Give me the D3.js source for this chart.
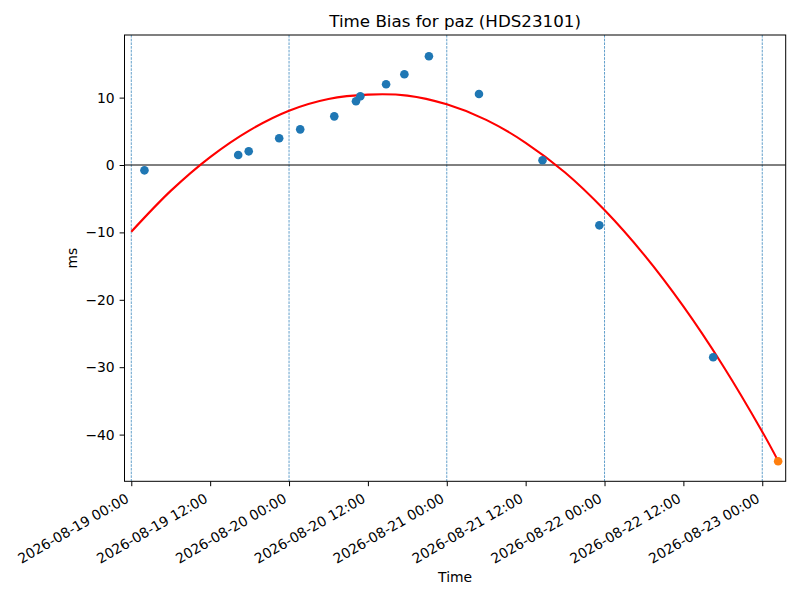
<!DOCTYPE html>
<html>
<head>
<meta charset="utf-8">
<script src="https://cdn.jsdelivr.net/npm/d3@7"></script>
<style>
  body { margin: 0; background: #fff; }
  text { font-family: "DejaVu Sans", sans-serif; fill: #000; }
</style>
</head>
<body>
<svg id="chart" width="800" height="600"></svg>
<script>
// Observed time-bias samples (ms)
const obsTimes = [
  "2026-08-19T02:00", "2026-08-19T16:16", "2026-08-19T17:52", "2026-08-19T22:30",
  "2026-08-20T01:42", "2026-08-20T06:53", "2026-08-20T10:11", "2026-08-20T10:51",
  "2026-08-20T14:46", "2026-08-20T17:33", "2026-08-20T21:17", "2026-08-21T04:54",
  "2026-08-21T14:34", "2026-08-21T23:13", "2026-08-22T16:32"
];
const obsValues = [-0.79, 1.48, 2.03, 3.96, 5.29, 7.22, 9.45, 10.19, 11.98, 13.46, 16.13, 10.53, 0.70, -8.95, -28.53];

// Predicted point
const predTimes = ["2026-08-23T02:25"];
const predValues = [-43.96];

// Fitted curve, read at 6-hour steps
const fitTimes = [
  "2026-08-19T00:00", "2026-08-19T06:00", "2026-08-19T12:00", "2026-08-19T18:00",
  "2026-08-20T00:00", "2026-08-20T06:00", "2026-08-20T12:00", "2026-08-20T18:00",
  "2026-08-21T00:00", "2026-08-21T06:00", "2026-08-21T12:00", "2026-08-21T18:00",
  "2026-08-22T00:00", "2026-08-22T06:00", "2026-08-22T12:00", "2026-08-22T18:00",
  "2026-08-23T00:00", "2026-08-23T02:25"
];
const fitValues = [-9.9, -3.84, 1.18, 5.15, 8.06, 9.8, 10.45, 10.3, 9.0, 6.7, 3.3, -1.11,
  -6.68, -13.29, -20.98, -29.74, -39.57, -43.9];

// Day boundaries (dashed markers)
const dayLines = ["2026-08-19T00:00", "2026-08-20T00:00", "2026-08-21T00:00", "2026-08-22T00:00", "2026-08-23T00:00"];

// Axis settings
const xDomain = ["2026-08-18T22:58", "2026-08-23T03:34"];
const yDomain = [-46.93, 19.29];
const yTicks = [-40, -30, -20, -10, 0, 10];
const xTickStart = "2026-08-19T00:00";
const xTickEnd = "2026-08-23T00:00";

const titleText = "Time Bias for paz (HDS23101)";
const xLabel = "Time";
const yLabel = "ms";

const parse = d3.timeParse("%Y-%m-%dT%H:%M");
const svg = d3.select("#chart");
const m = { left: 124.5, right: 785.7, top: 35, bottom: 481.3 };

const x = d3.scaleTime().domain(xDomain.map(parse)).range([m.left, m.right]);
const y = d3.scaleLinear().domain(yDomain).range([m.bottom, m.top]);

const clipId = "plotclip";
svg.append("defs").append("clipPath").attr("id", clipId)
  .append("rect").attr("x", m.left).attr("y", m.top)
  .attr("width", m.right - m.left).attr("height", m.bottom - m.top);

const plot = svg.append("g").attr("clip-path", `url(#${clipId})`);

// dashed day lines
plot.selectAll("line.day").data(dayLines).join("line")
  .attr("class", "day")
  .attr("x1", d => x(parse(d))).attr("x2", d => x(parse(d)))
  .attr("y1", m.top).attr("y2", m.bottom)
  .attr("stroke", "#1f77b4").attr("stroke-width", 0.7)
  .attr("stroke-dasharray", "2.6,1.1");

// zero line
plot.append("line")
  .attr("x1", m.left).attr("x2", m.right)
  .attr("y1", y(0)).attr("y2", y(0))
  .attr("stroke", "#000").attr("stroke-width", 1);

// fit curve
const fitData = fitTimes.map((t, i) => ({ t: parse(t), v: fitValues[i] }));
plot.append("path").datum(fitData)
  .attr("fill", "none").attr("stroke", "#ff0000").attr("stroke-width", 2.1)
  .attr("d", d3.line().x(d => x(d.t)).y(d => y(d.v)).curve(d3.curveCatmullRom.alpha(0.5)));

// observations
const obsData = obsTimes.map((t, i) => ({ t: parse(t), v: obsValues[i] }));
plot.selectAll("circle.obs").data(obsData).join("circle")
  .attr("class", "obs")
  .attr("cx", d => x(d.t)).attr("cy", d => y(d.v)).attr("r", 4.3)
  .attr("fill", "#1f77b4");

const predData = predTimes.map((t, i) => ({ t: parse(t), v: predValues[i] }));
plot.selectAll("circle.pred").data(predData).join("circle")
  .attr("class", "pred")
  .attr("cx", d => x(d.t)).attr("cy", d => y(d.v)).attr("r", 4.3)
  .attr("fill", "#ff7f0e");

// axes frame
svg.append("rect").attr("x", m.left).attr("y", m.top)
  .attr("width", m.right - m.left).attr("height", m.bottom - m.top)
  .attr("fill", "none").attr("stroke", "#000").attr("stroke-width", 1);

// x axis
const xTickVals = d3.timeHour.every(12).range(parse(xTickStart), d3.timeMinute.offset(parse(xTickEnd), 1));
const fmt = d3.timeFormat("%Y-%m-%d %H:%M");
const xAxis = d3.axisBottom(x).tickValues(xTickVals).tickFormat(fmt).tickSize(4.9).tickPadding(4.9);
const gx = svg.append("g").attr("transform", `translate(0,${m.bottom})`).call(xAxis);
gx.select(".domain").remove();
gx.selectAll(".tick line").attr("stroke", "#000").attr("stroke-width", 1);
gx.selectAll(".tick text")
  .attr("font-size", 13.9)
  .attr("text-anchor", "end")
  .attr("dy", null)
  .attr("y", null)
  .attr("transform", "translate(-2,20) rotate(-30)");

// y axis
const yAxis = d3.axisLeft(y).tickValues(yTicks).tickFormat(d3.format("d")).tickSize(4.9).tickPadding(4.9);
const gy = svg.append("g").attr("transform", `translate(${m.left},0)`).call(yAxis);
gy.select(".domain").remove();
gy.selectAll(".tick line").attr("stroke", "#000").attr("stroke-width", 1);
gy.selectAll(".tick text").attr("font-size", 13.9);

// labels
svg.append("text").attr("x", (m.left + m.right) / 2).attr("y", 27)
  .attr("text-anchor", "middle").attr("font-size", 16.7).text(titleText);
svg.append("text").attr("x", (m.left + m.right) / 2).attr("y", 582)
  .attr("text-anchor", "middle").attr("font-size", 13.9).text(xLabel);
svg.append("text").attr("transform", `translate(77,${(m.top + m.bottom) / 2}) rotate(-90)`)
  .attr("text-anchor", "middle").attr("font-size", 13.9).text(yLabel);
</script>
</body>
</html>
